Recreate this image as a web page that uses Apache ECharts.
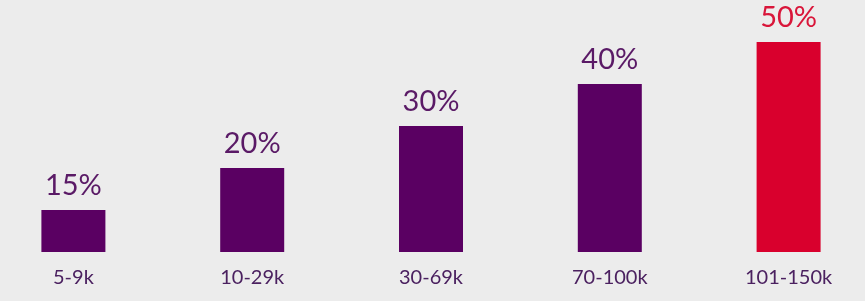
<!DOCTYPE html>
<html><head><meta charset="utf-8">
<style>html,body{margin:0;padding:0;background:#ececec;overflow:hidden;width:865px;height:301px;position:relative;}#c{position:absolute;left:-16px;top:0;width:894px;height:301px;}</style>
<script src="https://cdn.jsdelivr.net/npm/echarts@6/dist/echarts.min.js"></script>
</head><body><div id="c"></div>
<script>
const categories = ['5-9k', '10-29k', '30-69k', '70-100k', '101-150k'];
const percentLabels = [15, 20, 30, 40, 50];
// bar heights as drawn in the reference (relative scale)
const barHeights = [10, 20, 30, 40, 50];
const barColors = ['#5a0062', '#5a0062', '#5a0062', '#5a0062', '#d9002d'];
const labelColors = ['#5a1a66', '#5a1a66', '#5a1a66', '#5a1a66', '#d9163a'];

const chart = echarts.init(document.getElementById('c'), null, {renderer: 'canvas'});
chart.setOption({
  backgroundColor: '#ececec',
  animation: false,
  grid: {left: 0, right: 0, top: 42, bottom: 49, containLabel: false},
  xAxis: {
    type: 'category', data: categories,
    axisLine: {show: false}, axisTick: {show: false},
    axisLabel: {color: '#4b2160', fontSize: 20, fontFamily: 'Lato, "Open Sans", sans-serif', margin: 16}
  },
  yAxis: {type: 'value', min: 0, max: 50, show: false, splitLine: {show: false}},
  series: [{
    type: 'bar', barWidth: 64,
    data: barHeights.map((v, i) => ({
      value: v,
      itemStyle: {color: barColors[i]},
      label: {
        show: true, position: 'top', distance: 10,
        formatter: percentLabels[i] + '%',
        color: labelColors[i], fontSize: 29,
        fontFamily: 'Lato, "Open Sans", sans-serif', fontWeight: 'normal'
      }
    }))
  }]
});
</script></body></html>
